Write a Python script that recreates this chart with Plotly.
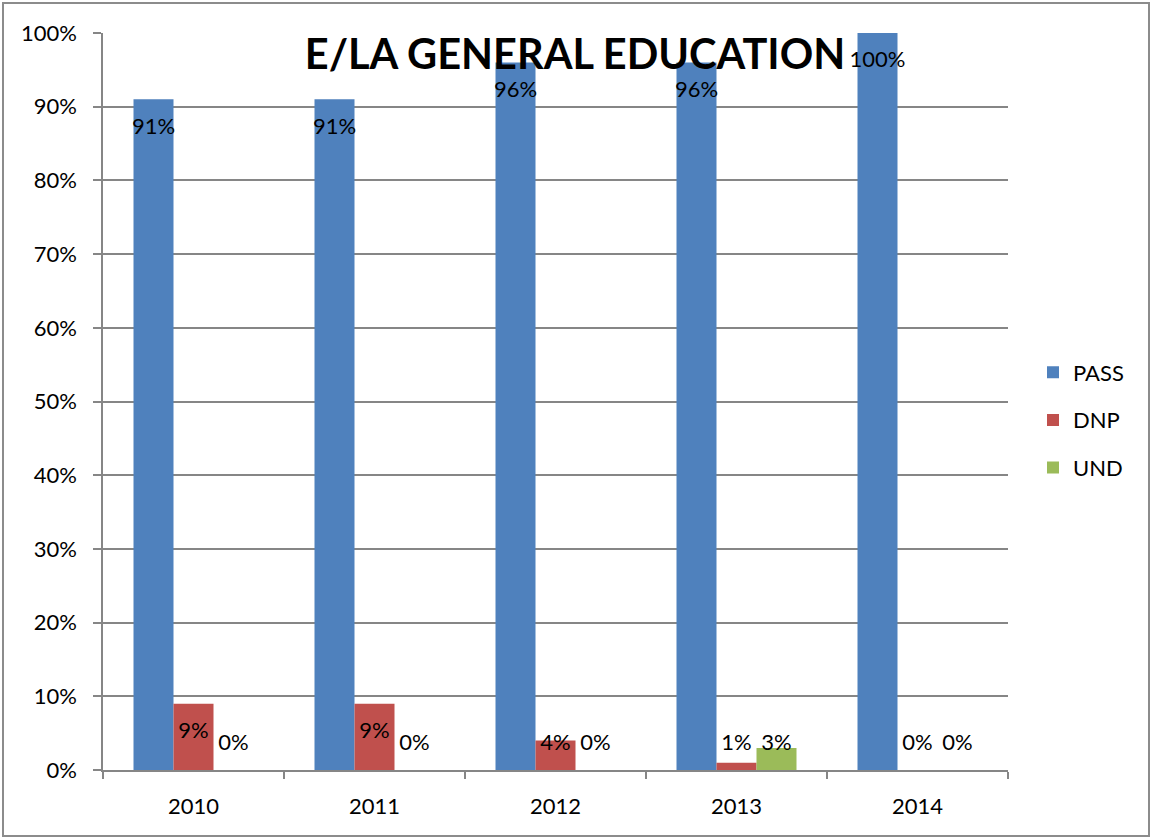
import plotly.graph_objects as go

years = ["2010", "2011", "2012", "2013", "2014"]
series_names = ["PASS", "DNP", "UND"]
pass_vals = [91, 91, 96, 96, 100]
dnp_vals = [9, 9, 4, 1, 0]
und_vals = [0, 0, 0, 3, 0]
colors = ["#4F81BD", "#C0504D", "#9BBB59"]

all_vals = [pass_vals, dnp_vals, und_vals]

FONT = "Lato"
FS = 22
fig = go.Figure()

# bars
for k, (name, vals) in enumerate(zip(series_names, all_vals)):
    fig.add_trace(go.Bar(
        x=years, y=[v / 100 for v in vals], name=name,
        marker=dict(color=colors[k], line=dict(width=0)),
        legendgroup=name, hoverinfo="skip",
    ))

# data labels (Excel "inside end", clamped near baseline)
bargap = 0.337
bw = (1 - bargap) / 3
for k, vals in enumerate(all_vals):
    xs = [i + (k - 1) * bw for i in range(len(years))]
    ys = [max(v - 3.93, 3.5) / 100 for v in vals]
    fig.add_trace(go.Scatter(
        x=xs, y=ys, mode="text", text=[f"{v}%" for v in vals],
        textposition="middle center",
        textfont=dict(family=FONT, size=FS, color="black"),
        xaxis="x2", yaxis="y", showlegend=False, hoverinfo="skip",
    ))

L, R, T, B = 103, 144, 33, 68
W, H = 1152, 838
pw, ph = W - L - R, H - T - B

def px_x(p):
    return (p - L) / pw

def px_y(p):
    return (H - B - p) / ph

fig.update_layout(
    width=W, height=H,
    margin=dict(l=L, r=R, t=T, b=B, autoexpand=False),
    paper_bgcolor="white", plot_bgcolor="white",
    barmode="group", bargap=bargap, bargroupgap=0,
    font=dict(family=FONT, size=FS, color="black"),
    title=dict(text="<b>E/LA GENERAL EDUCATION</b>", x=575 / W, xanchor="center",
               y=1 - 54 / H, yanchor="middle", yref="container",
               font=dict(family=FONT, size=41.5, color="black")),
    xaxis=dict(type="category", range=[-0.5, 4.5], showgrid=False,
               showline=True, linecolor="#868686", linewidth=1.5,
               ticks="outside", tickson="boundaries", ticklen=7,
               tickcolor="#868686", tickwidth=1.5,
               tickfont=dict(family=FONT, size=FS), ticklabelstandoff=16),
    xaxis2=dict(overlaying="x", range=[-0.5, 4.5], visible=False, anchor="y"),
    yaxis=dict(range=[0, 1], dtick=0.1, tickformat=".0%", showgrid=True,
               gridcolor="#868686", gridwidth=1.5,
               showline=True, linecolor="#868686", linewidth=1.5,
               ticks="outside", ticklen=8, tickcolor="#868686", tickwidth=1.5,
               tickfont=dict(family=FONT, size=FS), ticklabelstandoff=12,
               zeroline=False),
    legend=dict(x=px_x(1033), xanchor="left", y=px_y(420), yanchor="middle",
                traceorder="grouped", tracegroupgap=16,
                font=dict(family=FONT, size=FS), bgcolor="rgba(0,0,0,0)"),
    shapes=[dict(type="rect", xref="paper", yref="paper",
                 x0=px_x(3), x1=px_x(1149), y0=px_y(836), y1=px_y(3),
                 line=dict(color="#8c8c8c", width=2), layer="below")],
)

fig.write_html("out.html",
               config={"displayModeBar": False},
               post_script="document.body.style.margin='0';document.body.style.padding='0';")
